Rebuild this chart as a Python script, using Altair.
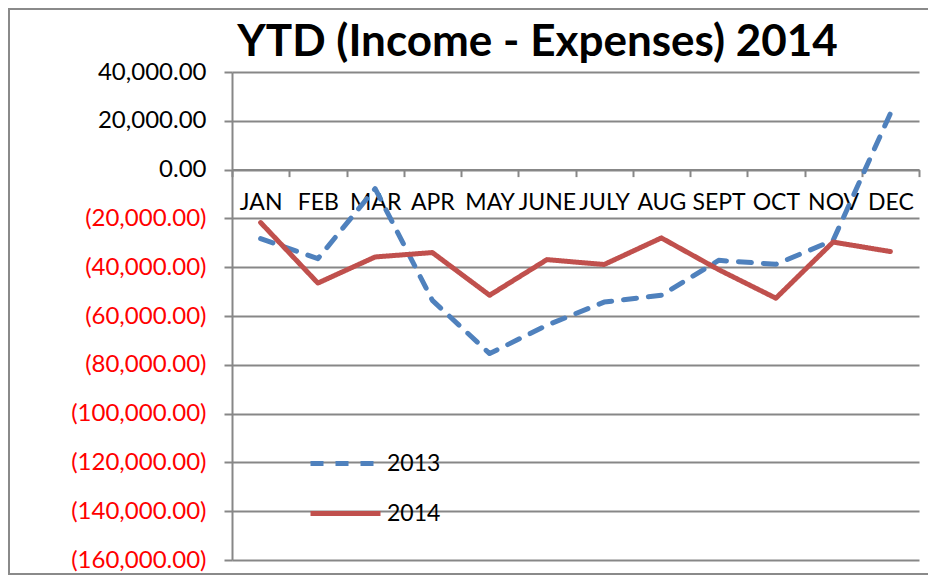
import altair as alt
import pandas as pd

# ---- data ----
months = ["JAN", "FEB", "MAR", "APR", "MAY", "JUNE", "JULY", "AUG", "SEPT", "OCT", "NOV", "DEC"]
ytd_2013 = [-28300, -36500, -7800, -53600, -75400, -63800, -54300, -51500, -37200, -38800, -29000, 23000]
ytd_2014 = [-21700, -46500, -35800, -34000, -51500, -36900, -38900, -28000, -41000, -52700, -29700, -33600]
series_names = ["2013", "2014"]
series_colors = ["#4F81BD", "#C0504D"]
y_ticks = [40000, 20000, 0, -20000, -40000, -60000, -80000, -100000, -120000, -140000, -160000]
title_text = "YTD (Income - Expenses) 2014"

rows = []
for name, vals in zip(series_names, [ytd_2013, ytd_2014]):
    for m, v in zip(months, vals):
        rows.append({"month": m, "series": name, "value": v})
df = pd.DataFrame(rows)

W, H = 687, 488
GRID = "#878787"
FONT = "Lato"
FS = 24

x = alt.X(
    "month:N", sort=months, bandPosition=0.5,
    scale=alt.Scale(type="band", paddingInner=0, paddingOuter=0),
    axis=alt.Axis(orient="bottom", offset=-(H * 0.8), tickBand="extent", tickSize=7,
                  tickColor=GRID, tickWidth=2, domainColor=GRID, domainWidth=2,
                  labelAngle=0, labelFont=FONT, labelFontSize=23, labelColor="black",
                  labelPadding=15, grid=False, title=None),
)
y = alt.Y(
    "value:Q",
    scale=alt.Scale(domain=[-160000, 40000], nice=False, zero=False),
    axis=alt.Axis(values=y_ticks,
                  labelExpr="datum.value < 0 ? '(' + format(-datum.value, ',.2f') + ')' : format(datum.value, ',.2f')",
                  labelColor=alt.condition("datum.value < 0", alt.value("#FF0000"), alt.value("black")),
                  labelFont=FONT, labelFontSize=FS, labelPadding=18,
                  tickSize=8, tickColor=GRID, tickWidth=2,
                  domainColor=GRID, domainWidth=2, gridColor=GRID, gridWidth=2, title=None),
)

lines = alt.Chart(df).mark_line(strokeWidth=5, strokeCap="round", strokeJoin="round").encode(
    x=x,
    y=y,
    color=alt.Color("series:N", scale=alt.Scale(domain=series_names, range=series_colors),
                    legend=alt.Legend(title=None)),
    strokeDash=alt.StrokeDash("series:N", scale=alt.Scale(domain=series_names, range=[[13, 12], [1, 0]]),
                              legend=alt.Legend(title=None)),
)

border = alt.Chart(alt.Data(values=[{"b": 1}])).mark_rect(
    fill=None, filled=False, stroke="#8a8a8a", strokeWidth=2
).encode(
    x=alt.value(-223), x2=alt.value(W + 200), y=alt.value(-63), y2=alt.value(502)
)

chart = alt.layer(border, lines).properties(
    width=W, height=H,
    padding={"left": 224, "top": 64, "right": 9, "bottom": 15},
    autosize=alt.AutoSizeParams(type="none"),
    title=alt.TitleParams(text=title_text, font=FONT, fontSize=44, fontWeight="bold", color="black",
                          anchor="middle", frame="group", dx=-38, offset=-92, baseline="alphabetic"),
).configure_view(stroke=None).configure_legend(
    orient="none", legendX=76, legendY=354, symbolType="stroke", symbolSize=4900,
    symbolStrokeWidth=5, labelFont=FONT, labelFontSize=23, labelColor="black",
    labelOffset=4, padding=0, rowPadding=-28,
)

chart.save("out.html", embed_options={"renderer": "svg", "actions": False})
